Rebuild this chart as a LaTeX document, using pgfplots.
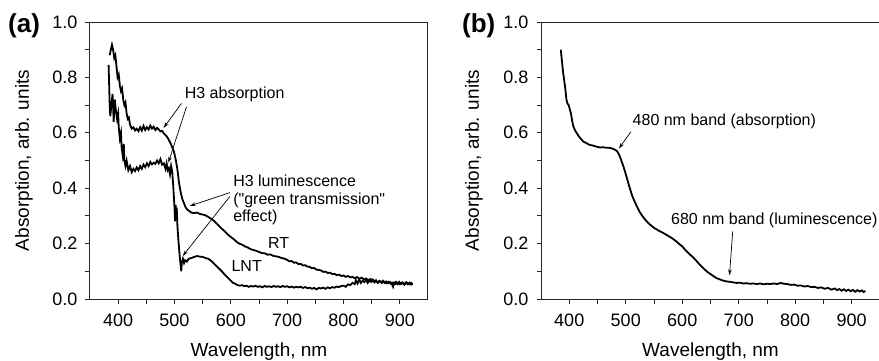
\documentclass[border=0pt]{standalone}
\usepackage{pgfplots}
\pgfplotsset{compat=1.18}
\usepackage{fontspec}
\setmainfont{Liberation Sans}[Ligatures=TeXOff]
\usetikzlibrary{arrows.meta}
\pgfplotstableread{
x y
385 0.88
387 0.90
389 0.918
391 0.90
393 0.87
395 0.88
397 0.84
399 0.80
401 0.81
403 0.77
405 0.75
407 0.76
409 0.72
411 0.70
413 0.71
415 0.67
417 0.65
419 0.655
421 0.63
424 0.615
427 0.62
430 0.608
433 0.615
436 0.606
439 0.62
442 0.608
445 0.625
448 0.61
451 0.62
454 0.612
457 0.626
460 0.615
463 0.622
466 0.61
469 0.618
472 0.612
475 0.605
478 0.607
481 0.598
484 0.592
487 0.585
490 0.574
493 0.562
496 0.548
499 0.532
502 0.505
505 0.47
508 0.42
511 0.385
514 0.36
517 0.345
520 0.33
523 0.322
526 0.318
530 0.312
535 0.31
540 0.312
545 0.307
550 0.305
555 0.302
560 0.296
565 0.29
570 0.282
575 0.272
580 0.262
585 0.252
590 0.243
595 0.232
600 0.224
605 0.216
610 0.207
615 0.2
620 0.196
625 0.19
630 0.186
635 0.18
640 0.177
645 0.174
650 0.17
655 0.166
660 0.165
665 0.16
670 0.161
675 0.156
680 0.154
685 0.152
690 0.148
695 0.146
700 0.141
704 0.136
708 0.137
712 0.131
716 0.132
720 0.126
724 0.127
728 0.121
732 0.122
736 0.117
740 0.116
744 0.111
748 0.112
752 0.106
756 0.105
760 0.103
764 0.098
768 0.099
772 0.094
776 0.095
780 0.09
784 0.091
788 0.086
792 0.088
796 0.083
800 0.085
804 0.08
808 0.083
812 0.078
816 0.08
820 0.075
824 0.079
828 0.073
832 0.077
836 0.071
840 0.074
844 0.068
848 0.072
852 0.064
856 0.067
860 0.061
864 0.065
868 0.058
872 0.063
876 0.057
880 0.062
884 0.055
888 0.06
892 0.054
896 0.059
900 0.053
904 0.058
908 0.052
912 0.06
916 0.053
920 0.058
922 0.055
}\rtdata
\pgfplotstableread{
x y
383 0.845
385 0.70
386 0.66
388 0.70
390 0.74
391 0.70
392 0.64
394 0.72
396 0.68
398 0.65
400 0.67
401 0.62
403 0.58
405 0.60
406 0.55
408 0.52
410 0.56
411 0.50
413 0.48
415 0.50
418 0.465
421 0.48
424 0.458
427 0.47
430 0.462
433 0.475
436 0.465
439 0.48
442 0.47
445 0.485
448 0.476
451 0.49
454 0.48
457 0.495
460 0.486
463 0.492
466 0.488
469 0.50
472 0.49
475 0.505
478 0.485
481 0.49
484 0.47
486 0.49
488 0.465
490 0.472
492 0.45
494 0.48
496 0.46
498 0.40
500 0.33
501 0.28
502 0.34
503 0.30
504 0.33
505 0.27
507 0.21
509 0.16
511 0.12
512 0.10
513 0.13
515 0.145
517 0.13
519 0.14
522 0.135
525 0.145
530 0.148
535 0.152
540 0.155
545 0.153
550 0.152
555 0.148
560 0.145
565 0.138
570 0.128
575 0.118
580 0.108
585 0.098
590 0.086
595 0.076
600 0.066
604 0.058
608 0.055
612 0.05
616 0.048
620 0.05
624 0.046
628 0.048
632 0.044
636 0.047
640 0.045
644 0.048
648 0.044
652 0.046
656 0.042
660 0.047
664 0.044
668 0.046
672 0.043
676 0.047
680 0.044
684 0.046
688 0.043
692 0.047
696 0.044
700 0.046
704 0.042
708 0.045
712 0.041
716 0.044
720 0.042
724 0.044
728 0.04
732 0.043
736 0.039
740 0.041
744 0.037
748 0.04
752 0.035
756 0.04
760 0.038
764 0.041
768 0.037
772 0.042
776 0.039
780 0.043
784 0.041
788 0.045
792 0.043
796 0.047
800 0.048
804 0.044
808 0.053
812 0.05
816 0.058
820 0.054
822 0.068
825 0.056
828 0.07
831 0.058
834 0.066
837 0.061
840 0.07
843 0.058
846 0.068
849 0.062
852 0.07
855 0.06
858 0.067
861 0.058
864 0.065
867 0.06
870 0.066
873 0.058
876 0.063
879 0.057
882 0.062
885 0.058
888 0.044
890 0.058
893 0.062
896 0.054
899 0.062
902 0.055
905 0.06
908 0.052
911 0.06
914 0.053
917 0.059
920 0.052
923 0.056
}\lntdata
\pgfplotstableread{
x y
385 0.90
387 0.86
389 0.82
391 0.79
393 0.76
395 0.72
397 0.705
399 0.70
401 0.685
403 0.67
405 0.645
407 0.625
409 0.615
411 0.606
413 0.60
416 0.59
419 0.582
422 0.575
425 0.568
428 0.565
431 0.562
434 0.558
437 0.556
440 0.555
445 0.552
450 0.549
455 0.547
460 0.548
465 0.546
470 0.546
475 0.544
480 0.54
484 0.535
487 0.526
490 0.512
493 0.495
496 0.478
499 0.458
502 0.437
505 0.415
508 0.395
511 0.375
515 0.355
520 0.333
525 0.313
530 0.298
535 0.285
540 0.274
545 0.265
550 0.257
555 0.251
560 0.245
565 0.24
570 0.234
575 0.228
580 0.222
585 0.215
590 0.207
595 0.198
600 0.19
605 0.178
610 0.168
615 0.158
620 0.149
625 0.138
630 0.126
635 0.116
640 0.106
645 0.097
650 0.09
655 0.083
660 0.076
665 0.072
670 0.068
675 0.065
680 0.063
685 0.062
690 0.06
696 0.058
702 0.059
708 0.056
714 0.057
720 0.055
726 0.056
732 0.054
738 0.056
744 0.053
750 0.055
756 0.054
762 0.056
768 0.054
774 0.058
780 0.055
786 0.054
792 0.051
798 0.052
804 0.048
810 0.049
816 0.045
822 0.047
828 0.043
834 0.044
840 0.04
846 0.042
852 0.037
858 0.04
864 0.034
870 0.038
874 0.032
878 0.036
882 0.03
886 0.035
890 0.029
894 0.034
898 0.028
902 0.033
906 0.026
910 0.032
914 0.027
918 0.031
921 0.025
924 0.029
}\bdata
\pgfplotsset{
  panel/.style={
    scale only axis,
    height=277pt,
    xmin=350, xmax=950, ymin=0, ymax=1,
    xtick={400,500,...,900},
    ytick={0,0.2,...,1.0},
    minor x tick num=1, minor y tick num=1,
    tick pos=left,
    tick align=outside,
    major tick length=4.5pt, minor tick length=4.5pt,
    every tick/.style={black!85, line width=0.9pt},
    axis line style={black!85, line width=1pt},
    /pgf/number format/assume math mode=true,
    ticklabel style={font=\fontsize{18}{20}\selectfont, inner sep=0pt},
    yticklabel style={/pgf/number format/fixed, /pgf/number format/fixed zerofill, /pgf/number format/precision=1},
    xticklabel style={yshift=-10pt},
    yticklabel style={xshift=-8pt},
    label style={font=\fontsize{19}{21}\selectfont, inner sep=0pt},
    xlabel={Wavelength, nm},
    ylabel={Absorption, arb. units},
    xlabel style={at={(axis description cs:0.5,-0.2058)}, anchor=base},
    cycle list={{black, no markers, line width=1.8pt, line join=round}},
  },
}
\tikzset{
  ann/.style={font=\fontsize{16}{17}\selectfont, inner sep=0pt, anchor=base west, align=left},
  arr/.style={-{Stealth[length=6pt,width=3.5pt]}, line width=0.7pt, black},
}
\begin{document}
\begin{tikzpicture}
\useasboundingbox (0,0) rectangle (879pt,360pt);
\begin{axis}[panel, width=338pt, at={(90pt,61pt)}, anchor=south west,
  ylabel style={at={(axis description cs:-0.1805,0.5)}, anchor=base, rotate=0}]
\addplot+[black, no markers, line width=1.8pt] table[x=x,y=y] {\rtdata};
\addplot+[black, no markers, line width=1.8pt] table[x=x,y=y] {\lntdata};
\node[ann] at (axis cs:518,0.724) {H3 absorption};
\draw[arr] (axis cs:512.4,0.706) -- (axis cs:480.5,0.617);
\draw[arr] (axis cs:521.3,0.694) -- (axis cs:489,0.492);
\node[ann] at (axis cs:604,0.406) {H3 luminescence};
\node[ann] at (axis cs:604,0.340) {("green transmission"};
\node[ann] at (axis cs:604,0.280) {effect)};
\draw[arr] (axis cs:598.2,0.384) -- (axis cs:527.2,0.336);
\draw[arr] (axis cs:598.2,0.370) -- (axis cs:514.5,0.155);
\node[ann] at (axis cs:666,0.184) {RT};
\node[ann] at (axis cs:601,0.100) {LNT};
\end{axis}
\begin{axis}[panel, width=339pt, at={(541pt,61pt)}, anchor=south west,
  ylabel style={at={(axis description cs:-0.183,0.5)}, anchor=base, rotate=0}]
\addplot+[black, no markers, line width=1.8pt] table[x=x,y=y] {\bdata};
\node[ann] at (axis cs:512,0.628) {480 nm band (absorption)};
\draw[arr] (axis cs:509.2,0.604) -- (axis cs:487.8,0.543);
\node[ann] at (axis cs:580,0.268) {680 nm band (luminescence)};
\draw[arr] (axis cs:689.3,0.244) -- (axis cs:683.6,0.085);
\end{axis}
\node[anchor=base west, inner sep=0pt, font=\fontsize{26}{28}\selectfont\bfseries] at (8pt,328pt) {(a)};
\node[anchor=base west, inner sep=0pt, font=\fontsize{26}{28}\selectfont\bfseries] at (462pt,328pt) {(b)};
\end{tikzpicture}
\end{document}
